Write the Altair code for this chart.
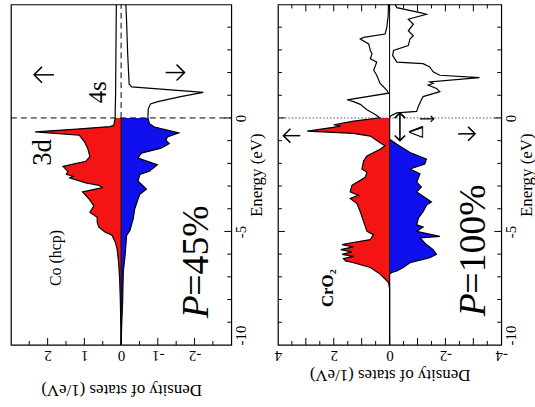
import altair as alt
import pandas as pd

# ---------------- data ----------------
# Co (hcp): spin-up (positive DOS), spin-down (negative DOS)
co_up_E = [5.0, 3.0, 1.0, 0.3, 0.0, -0.32, -0.38, -0.50, -0.61, -0.76, -1.04, -1.33, -1.70, -1.91,
           -2.13, -2.35, -2.49, -2.57, -2.64, -2.86, -2.97, -3.07, -3.26, -3.58, -3.87, -4.16, -4.38,
           -4.60, -4.82, -5.03, -5.17, -5.47, -5.76, -6.33, -7.06, -8.07, -8.94, -10.0]
co_up_D = [0.13, 0.14, 0.15, 0.16, 0.16, 0.20, 0.30, 1.30, 2.34, 1.14, 1.00, 0.91, 0.85, 0.96,
           1.58, 1.45, 1.49, 1.31, 1.40, 0.96, 0.60, 0.51, 1.05, 0.87, 0.74, 0.85, 0.65,
           0.65, 0.60, 0.43, 0.25, 0.16, 0.11, 0.07, 0.04, 0.02, 0.01, 0.0]
co_dn_E = [5.0, 4.24, 2.79, 1.49, 1.37, 1.13, 0.94, 0.72, 0.62, 0.40, 0.0, -0.25, -0.40, -0.66,
           -0.84, -0.98, -1.13, -1.33, -1.55, -1.77, -2.06, -2.35, -2.49, -2.78, -3.14, -3.36,
           -3.58, -4.01, -4.45, -4.96, -5.17, -6.04, -6.77, -8.22, -8.94, -10.0]
co_dn_D = [-0.13, -0.15, -0.18, -0.22, -0.29, -2.24, -1.62, -1.0, -0.80, -0.74, -0.73, -0.77, -0.91, -1.57,
           -1.26, -1.22, -1.31, -1.09, -0.55, -0.46, -0.99, -0.77, -0.51, -0.46, -0.69, -0.51,
           -0.46, -0.37, -0.33, -0.24, -0.15, -0.11, -0.06, -0.04, -0.02, 0.0]

# CrO2
cr_up_E = [5.0, 4.5, 3.99, 3.70, 3.55, 3.48, 3.26, 2.97, 2.83, 2.61, 2.46, 2.10, 1.88, 1.52, 1.23,
           1.09, 0.80, 0.72, 0.60, 0.36, 0.14, 0.0, -0.14, -0.30, -0.36, -0.45, -0.58, -0.68, -0.80,
           -1.09, -1.23, -1.38, -1.67, -1.88, -2.25, -2.39, -2.61, -2.75, -2.97, -3.26, -3.41, -3.55,
           -3.77, -4.13, -4.57, -5.0, -5.14, -5.36, -5.51, -5.58, -5.68, -5.80, -5.90, -6.01, -6.10,
           -6.20, -6.30, -6.38, -6.59, -6.88, -7.10, -7.25, -7.5, -10.0]
cr_up_D = [0.04, 0.05, 0.10, 0.16, 0.93, 1.05, 0.75, 0.69, 0.63, 0.69, 0.46, 0.57, 0.46, 0.34, 0.10,
           0.04, 1.52, 1.29, 1.05, 0.81, 0.50, 0.34, 1.29, 2.0, 1.75, 2.2, 2.95, 1.3, 0.69,
           0.34, 0.16, 0.34, 0.81, 0.93, 0.99, 0.81, 0.87, 1.05, 1.35, 1.41, 1.11, 1.41,
           1.17, 1.05, 0.93, 0.81, 0.58, 0.69, 1.41, 1.70, 1.30, 1.75, 1.35, 1.70, 1.30,
           1.65, 1.58, 1.29, 0.69, 0.34, 0.16, 0.04, 0.0, 0.0]
cr_dn_E = [5.0, 4.86, 4.64, 4.57, 4.35, 4.13, 3.84, 3.62, 3.48, 3.19, 2.97, 2.75, 2.46, 2.39, 2.25,
           2.03, 1.88, 1.78, 1.59, 1.52, 1.45, 1.30, 1.16, 0.94, 0.80, 0.51, 0.29, 0.22, 0.10, 0.0,
           -0.94, -1.16, -1.52, -1.81, -2.03, -2.25, -2.46, -2.83, -3.04, -3.26, -3.55, -3.70,
           -3.84, -4.13, -4.42, -4.71, -4.80, -5.0, -5.22, -5.29, -5.58, -5.80, -6.01, -6.16,
           -6.38, -6.59, -6.74, -6.81, -6.88, -10.0]
cr_dn_D = [-0.20, -0.26, -1.09, -1.32, -0.67, -0.85, -0.67, -0.85, -0.73, -0.67, -0.14, -0.11, -0.26,
           -1.20, -1.44, -1.56, -1.80, -3.22, -1.44, -1.56, -1.38, -1.68, -1.80, -1.20, -1.14, -1.03,
           -0.97, -0.26, -0.05, 0.0,
           0.0, -0.26, -0.73, -1.32, -1.26, -0.73, -1.09, -0.97, -1.14, -0.97, -1.32, -1.50,
           -1.32, -1.20, -1.03, -0.97, -1.20, -0.97, -1.80, -1.09, -1.32, -1.56, -1.68, -1.44,
           -0.73, -0.49, -0.26, -0.08, 0.0, 0.0]

co_dos_ticks = [2, 1, 0, -1, -2]
cr_dos_ticks = [4, 2, 0, -2, -4]
energy_ticks = [-10, -5, 0]

RED = "#f51414"
BLUE = "#1010ee"
FONT = "Liberation Serif"
H = 343


def curve(E, D):
    return pd.DataFrame({"E": E, "D": D, "i": list(range(len(E)))})


def panel(upE, upD, dnE, dnD, xdom, dos_ticks, W, title_pad, mirror, zero_style,
          labels, italic_labels, bold_labels, arrows, gap_arrow=None):
    xs = alt.Scale(domain=xdom, reverse=True, nice=False, zero=False)
    ys = alt.Scale(domain=[-10, 5], nice=False, zero=False)
    xax = alt.Axis(values=dos_ticks, labelExpr="'' + datum.value", labelAngle=180,
                   labelBaseline="bottom", labelAlign="center", labelPadding=3,
                   labelFont=FONT, labelFontSize=15, labelColor="black",
                   ticks=False, domain=False, grid=False, tickSize=0,
                   titleAngle=180, titleBaseline="bottom", titlePadding=title_pad,
                   titleFont=FONT, titleFontSize=17, titleFontWeight="normal", titleColor="black")
    yax = alt.Axis(orient="right", values=energy_ticks, labelExpr="'' + datum.value",
                   labelAngle=270, labelBaseline="top",
                   labelAlign={"condition": {"test": "datum.value == -10", "value": "left"}, "value": "center"},
                   labelPadding=2, labelFont=FONT, labelFontSize=15, labelColor="black",
                   ticks=False, domain=False, grid=False, tickSize=0,
                   titleAngle=270, titleBaseline="top", titlePadding=0,
                   titleFont=FONT, titleFontSize=17, titleFontWeight="normal", titleColor="black")

    def X(f="D"):
        return alt.X(f"{f}:Q", scale=xs, axis=xax, title="Density of states (1/eV)")

    def Y(f="E"):
        return alt.Y(f"{f}:Q", scale=ys, axis=yax, title="Energy (eV)")

    up = curve(upE, upD)
    dn = curve(dnE, dnD)
    layers = []
    layers.append(alt.Chart(up[up.E <= 0]).mark_area(orient="horizontal", color=RED, opacity=1)
                  .encode(x=X(), y=Y()))
    layers.append(alt.Chart(dn[dn.E <= 0]).mark_area(orient="horizontal", color=BLUE, opacity=1)
                  .encode(x=X(), y=Y()))
    for d in (up, dn):
        layers.append(alt.Chart(d).mark_line(color="black", strokeWidth=1.2)
                      .encode(x=X(), y=Y(), order="i:Q"))

    # zero / Fermi lines
    if zero_style == "co":
        layers.append(alt.Chart(pd.DataFrame({"D": [0, 0], "E": [-10, 0]}))
                      .mark_line(color="black", strokeWidth=1).encode(x=X(), y=Y()))
        layers.append(alt.Chart(pd.DataFrame({"D": [0, 0], "E": [0, 5]}))
                      .mark_line(color="black", strokeWidth=1, strokeDash=[6, 4]).encode(x=X(), y=Y()))
        layers.append(alt.Chart(pd.DataFrame({"D": [xdom[0], xdom[1]], "E": [0, 0]}))
                      .mark_line(color="black", strokeWidth=1, strokeDash=[6, 4]).encode(x=X(), y=Y()))
    else:
        layers.append(alt.Chart(pd.DataFrame({"D": [0, 0], "E": [-10, 5]}))
                      .mark_line(color="black", strokeWidth=1).encode(x=X(), y=Y()))
        layers.append(alt.Chart(pd.DataFrame({"D": [xdom[0], xdom[1]], "E": [0, 0]}))
                      .mark_line(color="#555555", strokeWidth=1, strokeDash=[1.5, 2]).encode(x=X(), y=Y()))

    # inward ticks
    lo, hi = xdom
    n = int(round((hi - lo) / 0.5))
    dvals = [lo + 0.5 * k for k in range(1, n)]
    major_d = pd.DataFrame({"D": [v for v in dvals if float(v).is_integer()]})
    minor_d = pd.DataFrame({"D": [v for v in dvals if not float(v).is_integer()]})
    evals = list(range(-9, 5))
    major_e = pd.DataFrame({"E": [v for v in evals if v % 5 == 0]})
    minor_e = pd.DataFrame({"E": [v for v in evals if v % 5 != 0]})
    for df, L in ((major_d, 7), (minor_d, 4)):
        layers.append(alt.Chart(df).mark_rule(color="black", strokeWidth=1)
                      .encode(x=X(), y=alt.value(H), y2=alt.value(H - L)))
        if mirror:
            layers.append(alt.Chart(df).mark_rule(color="black", strokeWidth=1)
                          .encode(x=X(), y=alt.value(0), y2=alt.value(L)))
    for df, L in ((major_e, 7), (minor_e, 4)):
        layers.append(alt.Chart(df).mark_rule(color="black", strokeWidth=1)
                      .encode(y=Y(), x=alt.value(W), x2=alt.value(W - L)))
        if mirror:
            layers.append(alt.Chart(df).mark_rule(color="black", strokeWidth=1)
                          .encode(y=Y(), x=alt.value(0), x2=alt.value(L)))

    # annotations
    for (txt, d, e, fs, align) in labels:
        layers.append(alt.Chart(pd.DataFrame({"D": [d], "E": [e], "t": [txt]}))
                      .mark_text(angle=270, font=FONT, fontSize=fs, align=align, baseline="middle", color="black")
                      .encode(x=X(), y=Y(), text="t:N"))
    for (txt, d, e, fs, align) in italic_labels:
        layers.append(alt.Chart(pd.DataFrame({"D": [d], "E": [e], "t": [txt]}))
                      .mark_text(angle=270, font=FONT, fontSize=fs, fontStyle="italic", align=align,
                                 baseline="middle", color="black")
                      .encode(x=X(), y=Y(), text="t:N"))
    for (txt, d, e, fs, align) in bold_labels:
        layers.append(alt.Chart(pd.DataFrame({"D": [d], "E": [e], "t": [txt]}))
                      .mark_text(angle=270, font=FONT, fontSize=fs, fontWeight="bold", align=align,
                                 baseline="middle", color="black")
                      .encode(x=X(), y=Y(), text="t:N"))

    # spin arrows drawn as shaft + open head (sizes in px converted to data units)
    upp = (hi - lo) / W
    for (d, e, direction, length, head, sw) in arrows:
        half = length / 2 * upp
        if direction == "left":
            tip = d + half
            shape = "M1,-1L0,0L1,1"
        else:
            tip = d - half
            shape = "M-1,-1L0,0L-1,1"
        layers.append(alt.Chart(pd.DataFrame({"D": [d + half, d - half], "E": [e, e]}))
                      .mark_line(color="black", strokeWidth=sw).encode(x=X(), y=Y()))
        layers.append(alt.Chart(pd.DataFrame({"D": [tip], "E": [e]}))
                      .mark_point(shape=shape, size=(2 * head) ** 2, filled=False, color="black",
                                  strokeWidth=sw, opacity=1)
                      .encode(x=X(), y=Y()))
    if gap_arrow is not None:
        d, e1, e2 = gap_arrow
        layers.append(alt.Chart(pd.DataFrame({"D": [d, d], "E": [e1, e2]}))
                      .mark_line(color="black", strokeWidth=1.6).encode(x=X(), y=Y()))
        layers.append(alt.Chart(pd.DataFrame({"D": [d], "E": [e1]}))
                      .mark_point(shape="M-1,1L0,0L1,1", size=110, filled=False, color="black",
                                  strokeWidth=1.6, opacity=1)
                      .encode(x=X(), y=Y()))
        layers.append(alt.Chart(pd.DataFrame({"D": [d], "E": [e2]}))
                      .mark_point(shape="M-1,-1L0,0L1,-1", size=110, filled=False, color="black",
                                  strokeWidth=1.6, opacity=1)
                      .encode(x=X(), y=Y()))

    return alt.layer(*layers).properties(width=W, height=H)


co = panel(co_up_E, co_up_D, co_dn_E, co_dn_D, [-3, 3], co_dos_ticks, 222, 18, False, "co",
           labels=[("3d", 2.13, -1.52, 27, "center"), ("4s", 0.64, 1.13, 25, "center"),
                   ("Co (hcp)", 1.76, -6.17, 16, "center"), ("=45%", -2.08, -7.83, 38, "left")],
           italic_labels=[("P", -2.08, -8.83, 38, "left")],
           bold_labels=[],
           arrows=[(2.1, 1.9, "left", 20, 8, 1.5), (-1.47, 2.0, "right", 19, 8, 1.5)])

cr = panel(cr_up_E, cr_up_D, cr_dn_E, cr_dn_D, [-4, 4], cr_dos_ticks, 225, 3, True, "cr",
           labels=[("Δ", -1.0, -0.61, 21, "center"), ("=100%", -3.04, -7.74, 38, "left")],
           italic_labels=[("P", -3.04, -8.74, 38, "left")],
           bold_labels=[("CrO₂", 2.22, -7.5, 17, "center")],
           arrows=[(3.5, -0.78, "left", 17, 7, 1.5), (-2.76, -0.70, "right", 17, 7, 1.5),
                   (-1.33, -0.04, "right", 14, 3, 1.3)],
           gap_arrow=(-0.37, 0.22, -1.0))

chart = (alt.hconcat(co, cr, spacing=47, bounds="flush")
         .properties(padding={"left": 8, "top": 0, "right": 0, "bottom": 0}, background="white")
         .configure_axis(titleFont=FONT, titleFontSize=17, titleFontWeight="normal", titleColor="black")
         .configure_view(stroke="black", strokeWidth=1.2))

chart.save("out.html", embed_options={"renderer": "svg", "actions": False})
